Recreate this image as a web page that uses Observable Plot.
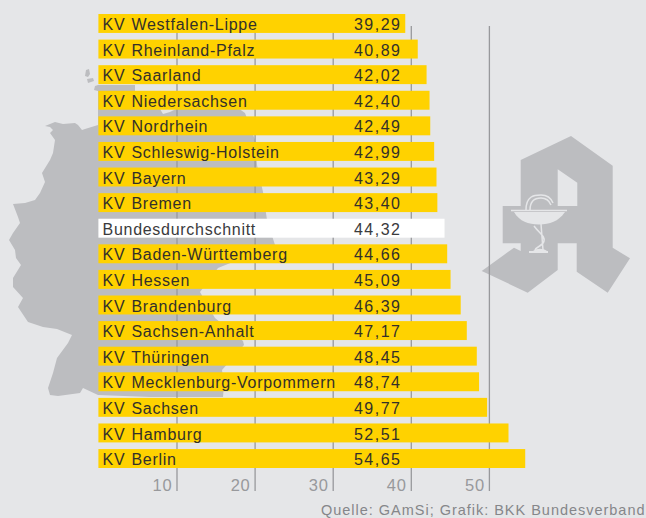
<!DOCTYPE html>
<html><head><meta charset="utf-8">
<script src="https://cdn.jsdelivr.net/npm/d3@7"></script>
<script src="https://cdn.jsdelivr.net/npm/@observablehq/plot@0.6"></script>
<style>
html,body{margin:0;padding:0;background:#e5e6e8;overflow:hidden}
svg{display:block}
text{font-family:"Liberation Sans",sans-serif}
</style></head><body>
<script>
const regions = ["KV Westfalen-Lippe","KV Rheinland-Pfalz","KV Saarland","KV Niedersachsen","KV Nordrhein","KV Schleswig-Holstein","KV Bayern","KV Bremen","Bundesdurchschnitt","KV Baden-Württemberg","KV Hessen","KV Brandenburg","KV Sachsen-Anhalt","KV Thüringen","KV Mecklenburg-Vorpommern","KV Sachsen","KV Hamburg","KV Berlin"];
const values = [39.29,40.89,42.02,42.40,42.49,42.99,43.29,43.40,44.32,44.66,45.09,46.39,47.17,48.45,48.74,49.77,52.51,54.65];
const ticks = [10,20,30,40,50];
const caption = "Quelle: GAmSi; Grafik: BKK Bundesverband";
const average = "Bundesdurchschnitt";

// Decorative silhouettes behind the chart (page pixels)
const mapShape = [[45,126],[55,122],[63,124],[75,123],[78,125],[82,130],[85,129],[98,125],[98,85],[135,85],[135,91],[160,109],[163,114],[170,112],[178,108],[238,108],[245,113],[255,140],[257,165],[263,192],[267,220],[275,245],[218,268],[200,292],[215,318],[243,341],[244,345],[222,370],[224,385],[223,397],[150,397],[98,395],[83,388],[80,393],[58,396],[50,395],[48,388],[53,373],[57,358],[68,343],[72,335],[57,329],[43,327],[28,322],[18,307],[23,298],[13,287],[13,278],[21,265],[16,258],[15,250],[9,240],[13,233],[20,223],[18,217],[13,204],[25,203],[35,200],[40,193],[45,182],[42,173],[50,160],[53,153],[55,140],[50,133],[53,130],[50,127]];
const mapIslands = [[[86,70],[89,69],[90,74],[88,77],[85,76]],[[87,79],[93,78],[94,81],[88,83]],[[95,86],[98,85],[98,91],[94,90]]];
const logoOuter = [[520.7,160],[571,136],[612.7,165.7],[612.7,247.7],[630,258.3],[607.7,292.7],[576.7,271.7],[576.7,243.3],[557.7,243.3],[557.7,270],[527.7,292.7],[481.7,271],[514,247.7],[520.7,251],[520.7,243.3],[502.7,243.3],[502.7,206],[520.7,206]];
const logoHole = [[557.7,169.3],[577.3,182.7],[577.3,206],[557.7,206]];
const pathOf = p => "M" + p.map(d => d.join(",")).join("L") + "Z";

const backdrop = () => {
  const g = d3.create("svg:g");
  g.append("path").attr("fill","#bcbdc0")
    .attr("d", [mapShape, ...mapIslands].map(pathOf).join(""));
  g.append("path").attr("fill","#bcbdc0").attr("fill-rule","evenodd")
    .attr("d", pathOf(logoOuter) + pathOf(logoHole));
  const s = g.append("g").attr("fill","none").attr("stroke","#e5e6e8").attr("stroke-width",1.5);
  s.append("path").attr("d","M511,210.5H567");
  s.append("path").attr("fill","#e5e6e8").attr("stroke","none").attr("d","M514,212H565C558,222 550,224 539,224.5C528,224 520,222 514,212Z");
  s.append("path").attr("d","M526,210C526,196 534,195 541,195C548,195 551,198 553,203");
  s.append("path").attr("d","M530,210C530,200 536,198 541,198C546,198 549,200 551,205");
  s.append("path").attr("d","M541,224L543,250M534,226C540,234 545,236 544,241C543,246 537,246 535,250");
  s.append("path").attr("d","M529,252H548").attr("stroke-width",2);
  s.append("path").attr("fill","#e5e6e8").attr("stroke","none").attr("d","M533,251C537,248 543,248 547,251Z");
  return g.node();
};

// Letter spacing is applied to the mark's group as it renders
const spaced = css => (index, scales, values, dimensions, context, next) => {
  const g = next(index, scales, values, dimensions, context);
  g.setAttribute("style", css);
  return g;
};

const rows = regions.map((name,i)=>({name, value:values[i]}));
const plot = Plot.plot({
  width:646, height:518,
  marginLeft:98, marginRight:0, marginTop:26, marginBottom:27,
  style:{background:"#e5e6e8", overflow:"visible"},
  x:{domain:[0,60], range:[98.4,567], axis:null},
  y:{domain:regions, range:[14,468], paddingInner:0.26, paddingOuter:0, round:false, axis:null},
  marks:[
    backdrop,
    Plot.ruleX(ticks,{x:d=>d, stroke:"#98999c", strokeWidth:1.3}),
    Plot.barX(rows,{x:"value", y:"name", fill:d=>d.name===average?"#ffffff":"#ffd200"}),
    Plot.text(rows,{x:()=>0, y:"name", text:"name", textAnchor:"start", dx:3.6, dy:1, fontSize:16, fill:d=>d.name===average?"#3a3a3c":"#33302a",
      render:spaced("letter-spacing:.72px;word-spacing:1px")}),
    Plot.text(rows,{x:()=>0, y:"name", text:d=>d.value.toFixed(2).replace(".",","), textAnchor:"start", dx:255, dy:1, fontSize:16, fill:d=>d.name===average?"#3a3a3c":"#33302a",
      render:spaced("letter-spacing:1.5px")}),
    Plot.text(ticks,{x:d=>d, text:d=>String(d), frameAnchor:"bottom", textAnchor:"end", dx:-4.5, dy:-0.5, lineAnchor:"bottom", fontSize:16.5, fill:"#98999c", render:spaced("letter-spacing:.8px")}),
    Plot.text([caption],{text:d=>d, frameAnchor:"bottom-right", textAnchor:"end", lineAnchor:"bottom", dx:-1, dy:23.5, fontSize:14.5, fill:"#85868a", render:spaced("letter-spacing:.98px")})
  ]
});
document.body.appendChild(plot);
</script></body></html>
